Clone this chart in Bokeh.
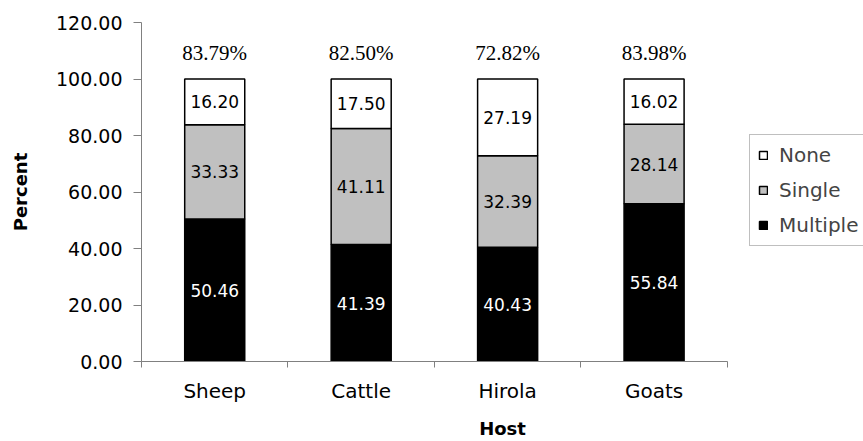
from bokeh.plotting import figure
from bokeh.models import (Range1d, LinearAxis, FixedTicker, NumeralTickFormatter,
                          Legend, LegendItem, ColumnDataSource)
from bokeh.core.properties import value
from bokeh.embed import file_html
from bokeh.resources import INLINE

# Infection status of each host group (percent of animals)
hosts = ["Sheep", "Cattle", "Hirola", "Goats"]
multiple = [50.46, 41.39, 40.43, 55.84]
single = [33.33, 41.11, 32.39, 28.14]
none = [16.20, 17.50, 27.19, 16.02]
y_ticks = [0, 20, 40, 60, 80, 100, 120]

SANS = "DejaVu Sans"
SERIF = "Liberation Serif"
AXIS_GREY = "#808080"

# one unit per host; bars sit at the middle of each slot.
# The x range runs a little past the last slot to leave room for the legend.
n = len(hosts)
xpos = [i + 0.5 for i in range(n)]
X_END = 4.93

src = ColumnDataSource(dict(x=xpos, Multiple=multiple, Single=single, None_=none))

p = figure(width=863, height=441,
           x_range=Range1d(0, X_END),
           y_range=Range1d(0, 120),
           x_axis_location=None,
           output_backend="svg", toolbar_location=None,
           min_border_left=141, min_border_right=0,
           min_border_top=22, min_border_bottom=79)
p.outline_line_color = None
p.xgrid.visible = False
p.ygrid.visible = False
p.background_fill_color = "white"
p.border_fill_color = "white"

# stacked bars: Multiple at the bottom, then Single, then None
renderers = p.vbar_stack(["Multiple", "Single", "None_"], x="x", width=0.41, source=src,
                         fill_color=["#000000", "#C0C0C0", "#FFFFFF"],
                         line_color="black", line_width=1.5)

# value labels centred in each segment
lab_x, lab_y, lab_t, lab_c = [], [], [], []
for i in range(n):
    base = 0.0
    for vals, col in ((multiple, "white"), (single, "black"), (none, "black")):
        v = vals[i]
        lab_x.append(xpos[i])
        lab_y.append(base + v / 2)
        lab_t.append(f"{v:.2f}")
        lab_c.append(col)
        base += v
p.text(x=lab_x, y=lab_y, text=lab_t, text_color=lab_c,
       text_align="center", text_baseline="middle",
       text_font=value(SANS), text_font_size="17px")

# share of infected animals (single + multiple) above each bar
tops = [m + s + z for m, s, z in zip(multiple, single, none)]
infected = [f"{m + s:.2f}%" for m, s in zip(multiple, single)]
p.text(x=xpos, y=tops, text=infected, text_align="center", text_baseline="middle",
       y_offset=-26, text_font=value(SERIF), text_font_size="21px", text_color="black")

# y axis
yax = p.yaxis[0]
yax.ticker = FixedTicker(ticks=y_ticks, minor_ticks=[])
yax.formatter = NumeralTickFormatter(format="0.00")
yax.axis_label = "Percent"
yax.axis_label_text_font = SANS
yax.axis_label_text_font_style = "bold"
yax.axis_label_text_font_size = "18px"
yax.axis_label_text_color = "black"
yax.axis_label_standoff = 22
yax.major_label_text_font = SANS
yax.major_label_text_font_size = "19px"
yax.major_label_text_color = "black"
yax.major_label_standoff = 11
yax.major_tick_out = 8
yax.major_tick_in = 0
yax.minor_tick_line_color = None
yax.axis_line_color = AXIS_GREY
yax.major_tick_line_color = AXIS_GREY

# x axis: tick marks between hosts ...
edges = list(range(n + 1))
edge_axis = LinearAxis(ticker=FixedTicker(ticks=edges, minor_ticks=[]),
                       bounds=(0, n),
                       major_label_overrides={e: "" for e in edges},
                       major_label_text_font_size="0px", major_label_standoff=0,
                       major_tick_out=6, major_tick_in=0,
                       minor_tick_line_color=None,
                       axis_line_color=AXIS_GREY, major_tick_line_color=AXIS_GREY)
p.add_layout(edge_axis, "below")

# ... and host names centred under the bars
name_axis = LinearAxis(ticker=FixedTicker(ticks=xpos, minor_ticks=[]),
                       bounds=(0, n),
                       major_label_overrides={x: h for x, h in zip(xpos, hosts)},
                       axis_line_color=None, major_tick_line_color=None,
                       minor_tick_line_color=None, major_tick_out=0, major_tick_in=0,
                       major_label_standoff=11,
                       major_label_text_font=SANS, major_label_text_font_size="20px",
                       major_label_text_color="black",
                       axis_label="Host", axis_label_text_font=SANS,
                       axis_label_text_font_style="bold", axis_label_text_font_size="18px",
                       axis_label_text_color="black",
                       axis_label_standoff=12)
p.add_layout(name_axis, "below")

# legend, top entry first
names = ["Multiple", "Single", "None"]
items = [LegendItem(label=names[i], renderers=[renderers[i]]) for i in (2, 1, 0)]
legend = Legend(items=items, location=(608, 115),
                glyph_width=10, glyph_height=10, label_standoff=11,
                padding=8, spacing=11, margin=0, label_width=95,
                label_text_font=SANS, label_text_font_size="20px",
                border_line_color=AXIS_GREY, border_line_width=1,
                background_fill_color="white", background_fill_alpha=1.0)
p.add_layout(legend)

open("out.html", "w").write(file_html(p, INLINE))
